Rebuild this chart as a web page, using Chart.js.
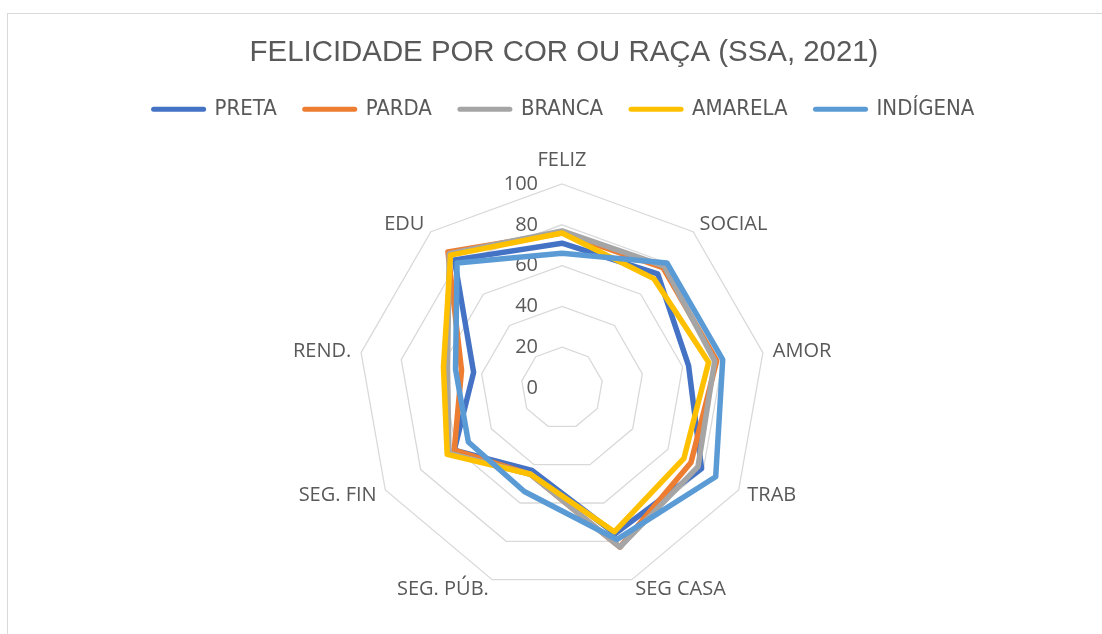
<!DOCTYPE html>
<html>
<head>
<meta charset="utf-8">
<script src="https://cdn.jsdelivr.net/npm/chart.js@4"></script>
<style>
  html, body { margin: 0; padding: 0; background: #fff; overflow: hidden; }
  #frame { position: absolute; left: 7px; top: 13px; width: 1200px; height: 700px; border: 1.5px solid #d9d9d9; }
  #wrap { position: absolute; left: 0; top: 0; width: 1102px; height: 634px; }
</style>
</head>
<body>
<div id="frame"></div>
<div id="wrap"><canvas id="chart"></canvas></div>
<script>
const categories = ['FELIZ', 'SOCIAL', 'AMOR', 'TRAB', 'SEG CASA', 'SEG. PÚB.', 'SEG. FIN', 'REND.', 'EDU'];
const preta    = [71, 73, 63, 79, 76, 43, 61, 44, 82];
const parda    = [76, 77, 77, 73, 83, 45, 61, 50, 87];
const branca   = [77, 78, 76, 77, 83, 45, 64, 57, 86];
const amarela  = [76, 70, 73, 69, 75, 45, 65, 59, 85];
const indigena = [66, 80, 80, 87, 79, 54, 53, 53, 80];
const tickValues = [0, 20, 40, 60, 80, 100];

// radar placement (centre and radius of the 100 ring)
const CX = 562, CY = 388, R = 204;
const textColor = '#595959';

const series = [
    { label: 'PRETA', data: preta, color: '#4472C4' },
    { label: 'PARDA', data: parda, color: '#ED7D31' },
    { label: 'BRANCA', data: branca, color: '#A5A5A5' },
    { label: 'AMARELA', data: amarela, color: '#FFC000' },
    { label: 'INDÍGENA', data: indigena, color: '#5B9BD5' }
];

const radarText = {
    id: 'radarText',
    beforeDatasetsDraw(chart) {
        const s = chart.scales.r;
        const ctx = chart.ctx;
        ctx.save();
        ctx.font = '20px "Open Sans"';
        ctx.fillStyle = textColor;
        ctx.textAlign = 'right';
        ctx.textBaseline = 'middle';
        tickValues.forEach(v => {
            ctx.fillText(String(v), s.xCenter - 24, s.yCenter - s.getDistanceFromCenterForValue(v));
        });
        ctx.restore();
    },
    afterDraw(chart) {
        const s = chart.scales.r;
        const ctx = chart.ctx;
        ctx.save();
        ctx.font = '20px "Open Sans"';
        ctx.fillStyle = textColor;
        ctx.textBaseline = 'middle';
        categories.forEach((name, i) => {
            const p = s.getPointPosition(i, s.drawingArea + 10);
            const dx = p.x - s.xCenter;
            let y = p.y;
            if (Math.abs(dx) < 1) {
                ctx.textAlign = 'center';
                y -= 14;
            } else {
                ctx.textAlign = dx > 0 ? 'left' : 'right';
            }
            ctx.fillText(name, p.x, y);
        });
        ctx.restore();
    }
};

const ctx = document.getElementById('chart').getContext('2d');
new Chart(ctx, {
    type: 'radar',
    data: {
        labels: categories,
        datasets: series.map((s, i) => ({
            label: s.label,
            data: s.data,
            borderColor: s.color,
            backgroundColor: 'transparent',
            borderWidth: 5.5,
            borderJoinStyle: 'round',
            pointRadius: 0,
            pointHoverRadius: 0,
            fill: false,
            order: series.length - i
        }))
    },
    options: {
        responsive: true,
        maintainAspectRatio: false,
        devicePixelRatio: 1,
        animation: false,
        layout: { padding: { left: 26 } },
        plugins: {
            title: {
                display: true,
                text: 'FELICIDADE POR COR OU RAÇA (SSA, 2021)',
                color: textColor,
                font: { family: '"Liberation Sans", Arial, sans-serif', size: 29.4, weight: 'normal' },
                padding: { top: 35, bottom: 0 }
            },
            legend: {
                position: 'top',
                labels: {
                    usePointStyle: true,
                    pointStyleWidth: 50,
                    padding: 28,
                    color: textColor,
                    font: { family: '"Liberation Sans Narrow", "DejaVu Sans Condensed", sans-serif', size: 22 },
                    generateLabels: chart => chart.data.datasets.map((ds, i) => ({
                        text: ds.label,
                        fillStyle: ds.borderColor,
                        strokeStyle: ds.borderColor,
                        lineWidth: 5,
                        lineCap: 'round',
                        pointStyle: 'line',
                        hidden: false,
                        datasetIndex: i,
                        fontColor: textColor
                    }))
                }
            },
            tooltip: { enabled: false }
        },
        scales: {
            r: {
                min: 0,
                max: 100,
                ticks: { stepSize: 20, display: false },
                grid: { color: '#D9D9D9', lineWidth: 1.3 },
                angleLines: { display: false },
                pointLabels: { display: false },
                afterFit: scale => {
                    scale.xCenter = CX;
                    scale.yCenter = CY;
                    scale.drawingArea = R;
                }
            }
        }
    },
    plugins: [radarText]
});
</script>
</body>
</html>
